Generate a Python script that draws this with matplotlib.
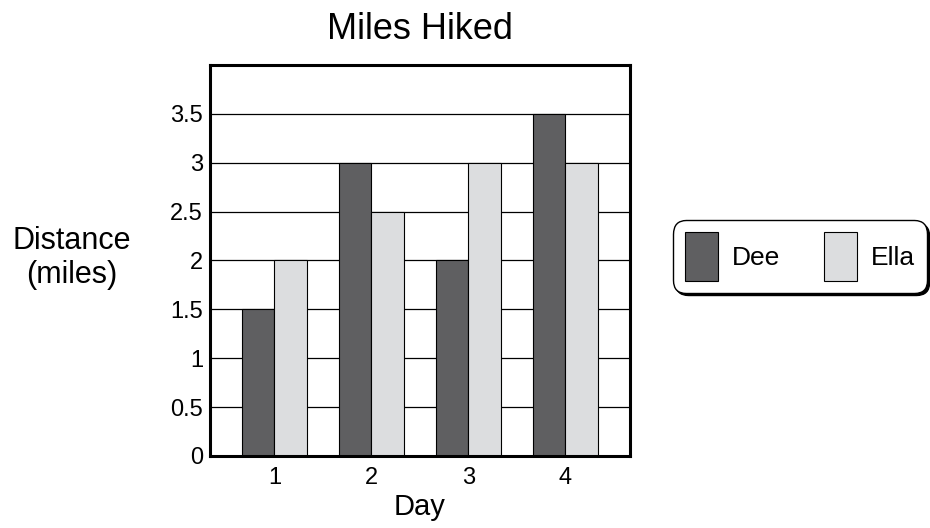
import matplotlib.pyplot as plt
import numpy as np
from matplotlib.patches import Patch

days = [1, 2, 3, 4]
dee = [1.5, 3, 2, 3.5]
ella = [2, 2.5, 3, 3]
y_ticks = [0, 0.5, 1, 1.5, 2, 2.5, 3, 3.5]
y_tick_labels = ["0", "0.5", "1", "1.5", "2", "2.5", "3", "3.5"]

dee_color = "#5f5f61"
ella_color = "#dcdddf"

plt.rcParams["font.family"] = ["Liberation Sans", "DejaVu Sans"]

fig = plt.figure(figsize=(9.3, 5.28), dpi=100)
ax = fig.add_axes([0.2258, 0.1364, 0.4516, 0.7405])

x = np.array(days)
w = 0.335
ax.set_axisbelow(True)
ax.yaxis.grid(True, color="black", linewidth=0.9)
ax.bar(x - w / 2, dee, width=w, color=dee_color, edgecolor="black", linewidth=0.8)
ax.bar(x + w / 2, ella, width=w, color=ella_color, edgecolor="black", linewidth=0.8)

ax.set_xlim(0.335, 4.665)
ax.set_ylim(0, 4)
ax.set_yticks(y_ticks)
ax.set_yticklabels(y_tick_labels)
ax.set_xticks(days)
ax.tick_params(axis="y", length=0, labelsize=17, pad=5)
ax.tick_params(axis="x", length=0, labelsize=17, pad=8)
for s in ax.spines.values():
    s.set_linewidth(2.2)

ax.set_title("Miles Hiked", fontsize=26, pad=19)
ax.set_xlabel("Day", fontsize=21, labelpad=3)
fig.text(0.077, 0.511, "Distance\n(miles)", fontsize=22, ha="center", va="center",
         linespacing=1.2)

handles = [Patch(facecolor=dee_color, edgecolor="black", linewidth=0.8, label="Dee"),
           Patch(facecolor=ella_color, edgecolor="black", linewidth=0.8, label="Ella")]
leg = fig.legend(handles=handles, ncol=2, loc="center", bbox_to_anchor=(0.860, 0.514),
                 fontsize=19, handlelength=1.25, handleheight=2.45, columnspacing=1.67,
                 handletextpad=0.53, borderpad=0.45, fancybox=True, framealpha=1,
                 edgecolor="black", shadow={"color": "black", "alpha": 1})
leg.get_frame().set_linewidth(1.0)
leg.get_frame().set_boxstyle("round", pad=0, rounding_size=0.5)

fig.savefig("out.png", dpi=100)
